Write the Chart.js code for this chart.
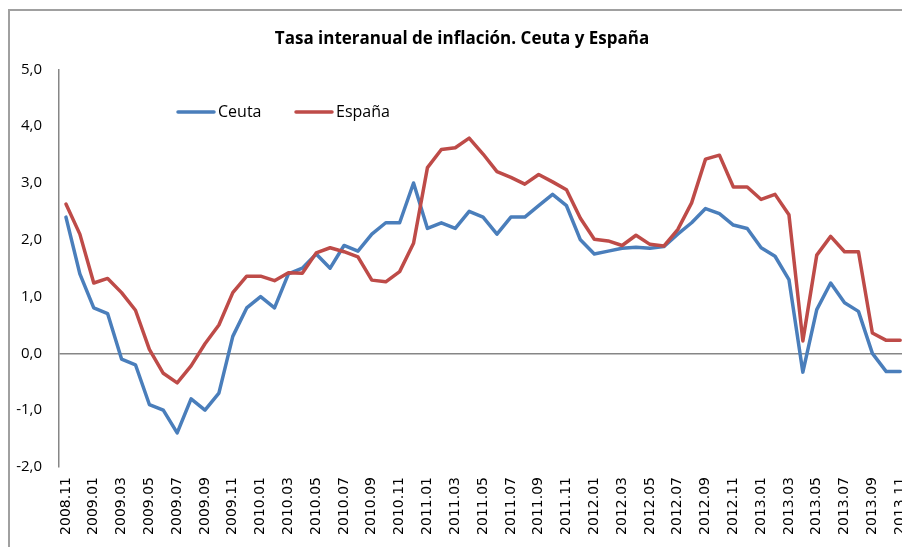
<!DOCTYPE html>
<html lang="es">
<head>
<meta charset="utf-8">
<title>Tasa interanual de inflación. Ceuta y España</title>
<script src="https://cdn.jsdelivr.net/npm/chart.js@4.4.1/dist/chart.umd.min.js"></script>
<style>
    html, body { margin: 0; padding: 0; background: #fff; overflow: hidden; }
    #marco { position: absolute; left: 8px; top: 9px; width: 960px; height: 600px; border: 2px solid #a0a0a0; box-sizing: border-box; }
    #canvaInflacion { position: absolute; left: 0; top: 0; }
</style>
</head>
<body>
<div id="marco"></div>
<canvas id="canvaInflacion" width="927" height="547"></canvas>
<script>
// meses de la serie (nov 2008 - nov 2013)
const meses = [
    "2008.11", "2008.12",
    "2009.01", "2009.02", "2009.03", "2009.04", "2009.05", "2009.06", "2009.07", "2009.08", "2009.09", "2009.10", "2009.11", "2009.12",
    "2010.01", "2010.02", "2010.03", "2010.04", "2010.05", "2010.06", "2010.07", "2010.08", "2010.09", "2010.10", "2010.11", "2010.12",
    "2011.01", "2011.02", "2011.03", "2011.04", "2011.05", "2011.06", "2011.07", "2011.08", "2011.09", "2011.10", "2011.11", "2011.12",
    "2012.01", "2012.02", "2012.03", "2012.04", "2012.05", "2012.06", "2012.07", "2012.08", "2012.09", "2012.10", "2012.11", "2012.12",
    "2013.01", "2013.02", "2013.03", "2013.04", "2013.05", "2013.06", "2013.07", "2013.08", "2013.09", "2013.10", "2013.11"
];

const tasaCeuta = [
    2.4, 1.4,
    0.8, 0.7, -0.1, -0.2, -0.9, -1.0, -1.4, -0.8, -1.0, -0.7, 0.3, 0.8,
    1.0, 0.8, 1.4, 1.5, 1.75, 1.5, 1.9, 1.8, 2.1, 2.3, 2.3, 3.0,
    2.2, 2.3, 2.2, 2.5, 2.4, 2.1, 2.4, 2.4, 2.6, 2.8, 2.6, 2.0,
    1.75, 1.8, 1.85, 1.87, 1.85, 1.88, 2.1, 2.3, 2.55, 2.46, 2.26, 2.2,
    1.86, 1.71, 1.3, -0.33, 0.77, 1.24, 0.89, 0.74, 0.0, -0.32, -0.32
];

const tasaEspana = [
    2.63, 2.1,
    1.24, 1.32, 1.07, 0.76, 0.07, -0.35, -0.52, -0.22, 0.17, 0.5, 1.07, 1.36,
    1.36, 1.28, 1.42, 1.41, 1.77, 1.86, 1.79, 1.7, 1.29, 1.26, 1.44, 1.94,
    3.27, 3.59, 3.62, 3.79, 3.51, 3.2, 3.1, 2.98, 3.15, 3.02, 2.88, 2.38,
    2.01, 1.98, 1.9, 2.08, 1.92, 1.89, 2.18, 2.65, 3.42, 3.49, 2.93, 2.93,
    2.71, 2.8, 2.44, 0.22, 1.73, 2.06, 1.79, 1.79, 0.36, 0.23, 0.23
];

const valoresEje = { min: -2, max: 5, paso: 1 };

const colorCeuta = "#4A7EBB";
const colorEspana = "#BE4B48";
const colorEje = "#868686";

// leyenda dibujada dentro del area del grafico, como en el original
const leyendaInterna = {
    id: "leyendaInterna",
    afterDraw(chart) {
        const ctx = chart.ctx;
        const posiciones = [178, 296];
        const y = 112;
        ctx.save();
        ctx.font = "16px 'Open Sans'";
        ctx.textBaseline = "middle";
        ctx.textAlign = "left";
        chart.data.datasets.forEach((dataset, i) => {
            const x = posiciones[i];
            ctx.strokeStyle = dataset.borderColor;
            ctx.lineWidth = 3.5;
            ctx.lineCap = "round";
            ctx.beginPath();
            ctx.moveTo(x, y);
            ctx.lineTo(x + 36, y);
            ctx.stroke();
            ctx.fillStyle = "#000";
            ctx.fillText(dataset.label, x + 40, y);
        });
        ctx.restore();
    }
};

let graficoInflacion = new Chart(document.getElementById("canvaInflacion"), {
    type: "line",
    data: {
        labels: meses,
        datasets: [{
            label: "Ceuta",
            data: tasaCeuta,
            borderColor: colorCeuta,
            order: 1
        }, {
            label: "España",
            data: tasaEspana,
            borderColor: colorEspana,
            order: 0
        }]
    },
    options: {
        responsive: false,
        animation: false,
        layout: {
            padding: { left: 0, right: 3, top: 0, bottom: 0 }
        },
        elements: {
            point: { radius: 0, hoverRadius: 0 },
            line: { borderWidth: 3.5, tension: 0, fill: false, borderJoinStyle: "round", borderCapStyle: "round" }
        },
        plugins: {
            legend: { display: false },
            tooltip: { enabled: false },
            title: {
                display: true,
                text: "Tasa interanual de inflación. Ceuta y España",
                color: "#000",
                font: { family: "'Open Sans'", size: 17, weight: "bold" },
                padding: { top: 29, bottom: 20 }
            }
        },
        scales: {
            x: {
                offset: true,
                grid: { display: false, drawTicks: false },
                border: { display: false },
                afterFit: scale => { scale.height = 80; },
                ticks: {
                    autoSkip: false,
                    minRotation: 90,
                    maxRotation: 90,
                    padding: 10,
                    color: "#000",
                    font: { family: "'DejaVu Sans'", size: 14 },
                    callback: function (valor, indice) {
                        return indice % 2 === 0 ? this.getLabelForValue(valor) : "";
                    }
                }
            },
            y: {
                min: valoresEje.min,
                max: valoresEje.max,
                afterFit: scale => { scale.width = 59; },
                grid: {
                    drawTicks: false,
                    lineWidth: 1.5,
                    color: ctx => ctx.tick && ctx.tick.value === 0 ? colorEje : "rgba(0,0,0,0)"
                },
                border: { display: true, color: colorEje, width: 1.5 },
                ticks: {
                    stepSize: valoresEje.paso,
                    padding: 17,
                    color: "#000",
                    font: { family: "'Open Sans'", size: 15 },
                    callback: valor => valor.toFixed(1).replace(".", ",")
                }
            }
        }
    },
    plugins: [leyendaInterna]
});
</script>
</body>
</html>
